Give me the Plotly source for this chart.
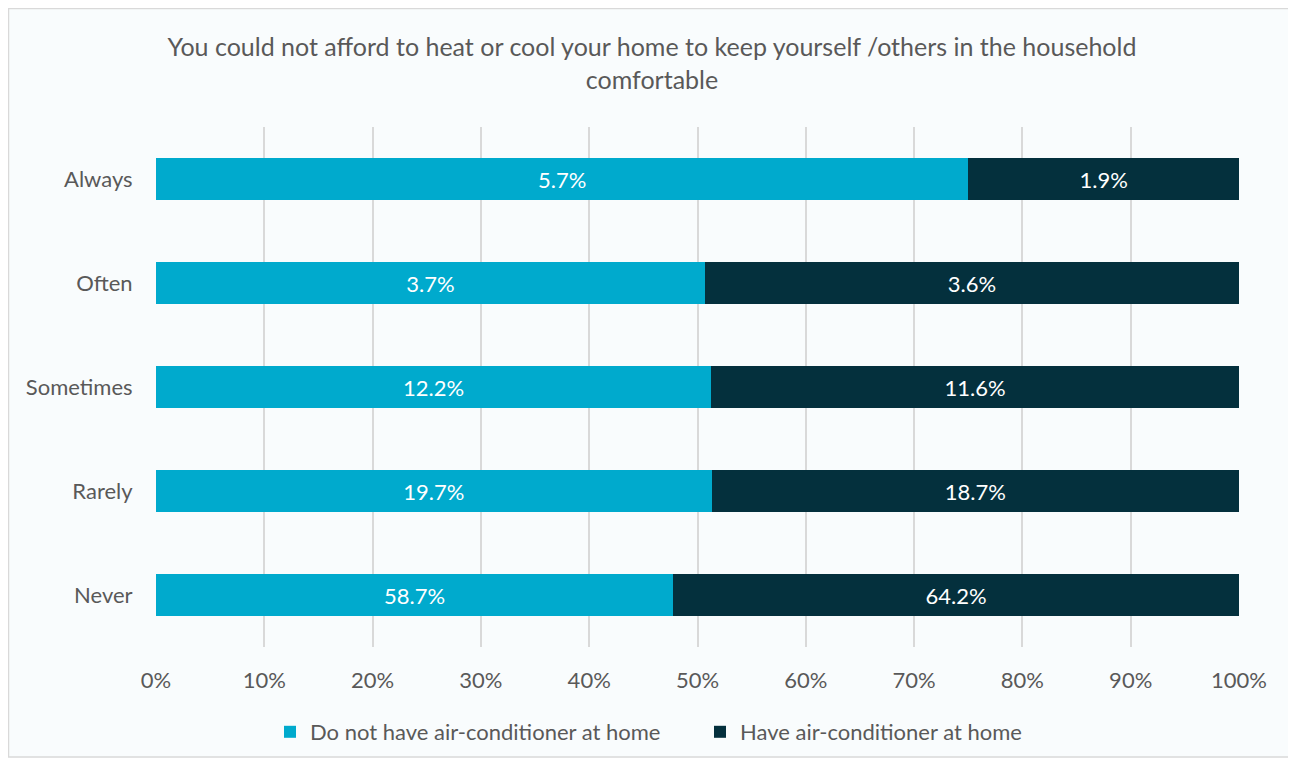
import plotly.graph_objects as go

categories = ["Always", "Often", "Sometimes", "Rarely", "Never"]
no_ac = [5.7, 3.7, 12.2, 19.7, 58.7]
have_ac = [1.9, 3.6, 11.6, 18.7, 64.2]
series_names = ["Do not have air-conditioner at home", "Have air-conditioner at home"]
tick_vals = [0, 10, 20, 30, 40, 50, 60, 70, 80, 90, 100]
tick_text = [f"{v}%" for v in tick_vals]
title = "You could not afford to heat or cool your home to keep yourself /others in the household<br>comfortable"

FONT = "Lato"
OFF = 8  # page body margin offset
W, H = 1296, 764
ML, MT = 156 - OFF, 127 - OFF
MR = W - (1239 - OFF)
MB = H - (647 - OFF)
pw, ph = W - ML - MR, H - MT - MB

fig = go.Figure()
for name, vals, col in [(series_names[0], no_ac, "#00AACD"), (series_names[1], have_ac, "#04303D")]:
    fig.add_trace(go.Bar(
        y=categories, x=vals, name=name, orientation="h",
        marker=dict(color=col, line=dict(width=0)),
        text=[f"{v:.1f}%" for v in vals], textposition="inside",
        insidetextanchor="middle",
        textfont=dict(color="white", size=22, family=FONT),
    ))

def px_x(p):
    return (p - OFF - ML) / pw

def px_y(p):
    return (H - MB - (p - OFF)) / ph

fig.add_shape(type="rect", xref="paper", yref="paper",
              x0=px_x(8.5), x1=px_x(1289), y0=px_y(757), y1=px_y(8.5),
              fillcolor="#F9FCFD", line=dict(color="#D9D9D9", width=1.5), layer="below")

fig.update_layout(
    width=W, height=H,
    barmode="stack", barnorm="percent", bargap=0.6,
    paper_bgcolor="white", plot_bgcolor="rgba(0,0,0,0)",
    margin=dict(l=ML, r=MR, t=MT, b=MB, autoexpand=False),
    font=dict(family=FONT, color="#595959"),
    title=dict(text=title, x=(652 - OFF) / W, xref="container", xanchor="center",
               y=1 - 48 / H, yanchor="top",
               font=dict(size=25, color="#595959", family=FONT)),
    xaxis=dict(range=[0, 100], tickvals=tick_vals, ticktext=tick_text,
               showgrid=True, gridcolor="#D9D9D9", gridwidth=1.5, zeroline=False,
               tickfont=dict(size=22, color="#595959"), ticks="outside", ticklen=14,
               tickcolor="rgba(0,0,0,0)", tickangle=0, automargin=False,
               fixedrange=True),
    yaxis=dict(categoryorder="array", categoryarray=categories[::-1],
               tickfont=dict(size=22, color="#595959"), ticks="outside", ticklen=18,
               tickcolor="rgba(0,0,0,0)", automargin=False,
               showgrid=False),
    legend=dict(orientation="h", x=px_x(270), xanchor="left",
                y=px_y(732), yanchor="middle",
                font=dict(size=22, color="#595959"), traceorder="normal",
                entrywidth=385, bgcolor="rgba(0,0,0,0)"),
    showlegend=True,
)
fig.write_html("out.html")
